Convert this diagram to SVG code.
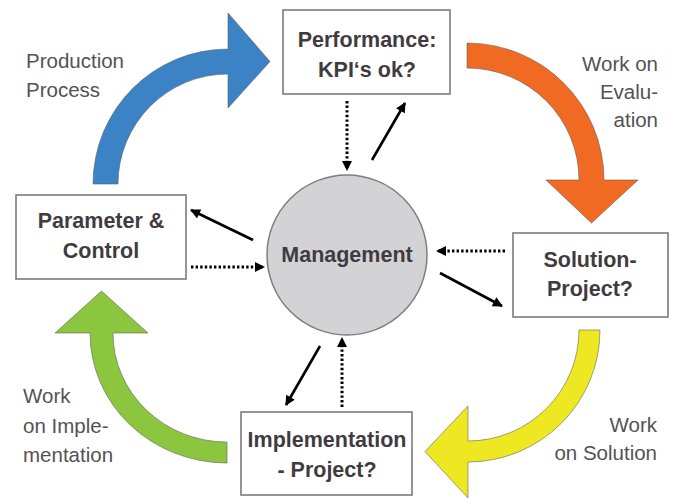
<svg xmlns="http://www.w3.org/2000/svg" width="677" height="498" viewBox="0 0 677 498">
<defs>
<style>
.box{fill:#fff;stroke:#7d7a7d;stroke-width:1.6}
.nt{font-family:"Liberation Sans",Arial,sans-serif;font-weight:bold;font-size:21.5px;fill:#3f3b40;text-anchor:middle}
.lb{font-family:"Liberation Sans",Arial,sans-serif;font-size:20.5px;fill:#555155}
.big{stroke:#5a5a5a;stroke-opacity:0.55;stroke-width:1}
.solid{stroke:#000;stroke-width:2.6;fill:none;marker-end:url(#ah)}
.dot{stroke:#000;stroke-width:3;fill:none;stroke-dasharray:2.4 2.2;marker-end:url(#ah)}
</style>
<marker id="ah" viewBox="0 0 10 10" refX="9" refY="5" markerWidth="11" markerHeight="10" markerUnits="userSpaceOnUse" orient="auto">
<path d="M0,0 L10,5 L0,10 z" fill="#000"/>
</marker>
</defs>
<rect width="677" height="498" fill="#fff"/>

<g id="cycle-arrows">
<path id="blue-arrow" class="big" fill="#3c83c6" d="M93,184 A135,135 0 0 1 228,49 L228,13 L270,61.5 L228,108 L228,74 A110,110 0 0 0 118,184 Z"/>
<path id="orange-arrow" class="big" fill="#f06a24" d="M467,43 A137,137 0 0 1 604,180 L638,180 L591.5,223 L546,180 L579,180 A112,112 0 0 0 467,68 Z"/>
<path id="yellow-arrow" class="big" fill="#ede822" d="M600,330 A132,132 0 0 1 468,462 L468,498 L425,451.5 L468,406 L468,441 A111,111 0 0 0 579,330 Z"/>
<path id="green-arrow" class="big" fill="#8cc63f" d="M227,463 A137,130 0 0 1 90,333 L55,333 L101.5,291 L148,333 L113,333 A114,109 0 0 0 227,442 Z"/>
</g>

<g id="labels">
<text class="lb" x="26" y="68">Production</text>
<text class="lb" x="26" y="97">Process</text>
<text class="lb" x="658" y="71" text-anchor="end">Work on</text>
<text class="lb" x="658" y="99" text-anchor="end">Evalu-</text>
<text class="lb" x="658" y="127" text-anchor="end">ation</text>
<text class="lb" x="657" y="432" text-anchor="end">Work</text>
<text class="lb" x="657" y="460" text-anchor="end">on Solution</text>
<text class="lb" x="23" y="403">Work</text>
<text class="lb" x="23" y="433">on Imple-</text>
<text class="lb" x="23" y="462">mentation</text>
</g>

<g id="connectors">
<line class="dot" x1="347" y1="101" x2="347" y2="170"/>
<line class="solid" x1="372" y1="160" x2="405" y2="103"/>
<line class="solid" x1="253" y1="240" x2="191" y2="210"/>
<line class="dot" x1="191" y1="267" x2="264" y2="267"/>
<line class="dot" x1="505" y1="251" x2="437" y2="251"/>
<line class="solid" x1="440" y1="273" x2="502" y2="306"/>
<line class="solid" x1="320" y1="346" x2="286" y2="405"/>
<line class="dot" x1="342" y1="407" x2="342" y2="338"/>
</g>

<g id="management">
<circle cx="347" cy="255" r="80" fill="#d3d3d6" stroke="#807d80" stroke-width="1.5"/>
<text class="nt" x="347" y="262">Management</text>
</g>

<g id="performance">
<rect class="box" x="283" y="10" width="167" height="84"/>
<text class="nt" x="367" y="47">Performance:</text>
<text class="nt" x="367" y="77">KPI‘s ok?</text>
</g>

<g id="parameter">
<rect class="box" x="16" y="195" width="170" height="84"/>
<text class="nt" x="101" y="228">Parameter &amp;</text>
<text class="nt" x="101" y="258">Control</text>
</g>

<g id="solution">
<rect class="box" x="513" y="233" width="155" height="84"/>
<text class="nt" x="590" y="267">Solution-</text>
<text class="nt" x="590" y="296">Project?</text>
</g>

<g id="implementation">
<rect class="box" x="241" y="412" width="171" height="83"/>
<text class="nt" x="327" y="447">Implementation</text>
<text class="nt" x="327" y="477">- Project?</text>
</g>
</svg>
